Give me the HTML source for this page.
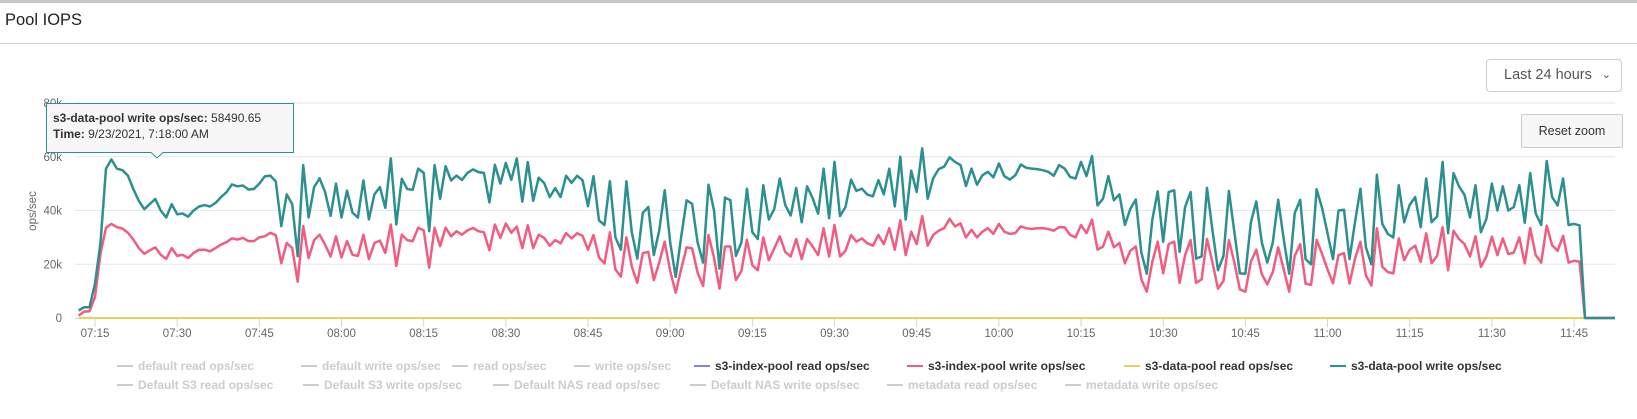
<!DOCTYPE html>
<html><head><meta charset="utf-8"><style>
html,body{margin:0;padding:0;background:#fff;width:1637px;height:419px;overflow:hidden;font-family:"Liberation Sans",sans-serif;}
#topbar{position:absolute;left:0;top:0;width:1637px;height:3px;background:#c8c8c8;}
#title{position:absolute;left:5px;top:11px;font-size:16.5px;color:#222;}
#hdrline{position:absolute;left:0;top:43px;width:1637px;height:1px;background:#cfcfcf;}
#sel{position:absolute;left:1486px;top:59px;width:136px;height:33px;border:1px solid #ccc;border-radius:4px;box-sizing:border-box;font-size:14.5px;color:#555;line-height:31px;padding-left:17px;background:#fff;}
#sel span{position:absolute;right:10px;top:0;font-size:11px;color:#555;}
#reset{position:absolute;left:1521px;top:114px;width:102px;height:34px;border:1px solid #ccc;border-radius:2px;box-sizing:border-box;background:#f7f7f7;font-size:12.5px;color:#333;text-align:center;line-height:32px;}
svg{position:absolute;left:0;top:0;}
</style></head><body>
<div id="topbar"></div>
<div id="title">Pool IOPS</div>
<div id="hdrline"></div>
<svg id="chart" width="1637" height="419"></svg>
<div id="sel">Last 24 hours<span>&#8964;</span></div>
<div id="reset">Reset zoom</div>
<script>
const startMinute = -3; // minutes relative to 07:15, 1-minute step
const tealValues = [2.8,4,4,12.8,28,55.6,59,55.6,55,53,48,43.6,40.5,42.4,44.3,40,37.4,42.4,38.6,38.9,37.7,40,41.5,42,41.5,42.8,45,46.8,49.7,49,49.3,47.8,48,50,52.7,53,50.8,34.2,46,42.4,23,56.9,37.4,48.7,52,46.8,38,50,37.4,47.4,39.2,37.4,51.2,36.7,46,48.7,41,59.4,34.8,51.8,48,47.7,55.6,54,32.3,56.9,44.3,56.5,51.2,53,51.4,54,55.3,54.3,54,43,57,50,57.7,51.4,59.4,43.3,58,43.6,52.2,50.2,45,48.3,
45,52.9,50.3,52.9,51.3,41.6,52.8,36.3,34.6,50.9,30,25.4,50.9,31.9,22.1,39.1,41.3,23.4,32.5,47.5,28.1,15.3,30,43.8,42.5,28.1,20.6,49.6,40,18.4,44.8,43.8,23.1,28.1,48.1,31.9,29.4,49.4,36.6,40.6,51.9,42.1,38.1,48.4,35.6,49,44.6,38.8,55.6,37.1,58.1,37.9,41.3,51.5,47.3,48.1,45.9,45.3,51.3,46,55.6,
41.5,60,36.6,54.8,46.9,63.1,44.4,51.9,55.4,56.3,59.8,58.1,56.9,49.1,55.6,49.6,53.1,54.4,52.3,57.5,52.8,51.5,53.1,57.1,55.9,55.6,55.4,55,54.4,52.9,56.9,55.6,52.5,51.9,58.1,52.8,60.3,41.9,44.4,52.8,43.8,46,34.6,40.6,44.1,24.4,16.5,36.5,47.1,28.4,46.9,47.5,24.6,41.3,46.9,22.1,22.9,48.4,32.5,17.8,23.1,47.3,31.9,16.6,
16.5,35.6,43.4,28.1,20.6,28.1,44,29.4,16.5,39,44,21.9,20,47.9,40.9,31.6,21.9,40,40.3,21.9,35.4,48.1,26.3,20,53.3,35,31.3,30,49.4,35.6,42.1,45,33.8,51.9,35.6,37.8,58.1,31.5,53.9,49,45.8,37.4,49.4,31.9,36.9,50,40,49,40,41.3,49.4,35.4,53.9,38.9,34.6,58.4,45,41.9,51.9,34.6,35,34.5,0,0,0,0,0,0,0,0,0];
const pinkValues = [0.9,2.4,2.5,7.8,24,33.6,35,33.8,33.3,31.7,29.2,26,23.9,25.2,26.3,23.5,22,26,23.1,23.5,22.3,24.2,25.4,25.4,24.8,26,27.3,28.2,29.6,29.2,29.8,28.6,28.6,30,30.4,31.7,30.8,20.4,27.9,26,13.5,34.2,22.3,29,31,27.3,22.9,30.4,22.5,28.6,23.5,23.1,31,21.9,27.9,28.8,24.2,34.8,19.4,31,29,28.6,33.6,32.6,18.7,33.6,26.7,33.6,30.4,32.3,31,32.6,33.5,32.3,31.9,25.2,34.8,29.8,35.2,31.7,34,26,34.5,26,31,29.8,26.9,29,
27.8,31.6,29.6,31.5,30.6,25.4,30.9,22.5,20.3,31.9,18.1,15.4,30,19.1,13.1,24.1,24.6,14.1,20.6,28.4,17.5,9.4,18.1,26.3,25.9,16.9,11.9,30.9,22.5,10.9,26.6,26.6,14.1,17.5,29.1,19.6,17.8,30,21.5,25.9,30.4,24.6,22.9,29.4,21.9,29.4,26.6,23.4,33.4,22.9,34.6,22.9,25,30.9,28.4,29.6,27.8,26.9,30.9,27.5,33.4,
25.4,36.3,23.4,32.1,27.5,37.9,26.9,30.9,32.5,33.4,36.9,34.1,35.2,30,32.8,30,32.1,33.4,31.3,35,32.1,31.3,31.6,34.1,33.4,33.1,33.4,33.4,33.1,32.5,33.8,33.8,30.9,30,34.6,31.6,36.6,25.4,26.6,32.1,26.3,27.9,20.4,25,26.6,14.4,9.8,20.9,28.4,16.6,27.5,28.4,13.1,23.4,29,13.1,14.4,29.4,20.6,10.9,13.8,29,20.6,10.6,
9.8,20.9,25.4,16.3,12.5,17.1,26.3,18.1,9.8,23.1,27.5,12.8,12.3,29.1,23.8,18.1,12.9,23.4,24.1,12.8,21.9,28.4,15.9,12.1,33.4,19.1,17.1,16.6,29.6,21.5,25.4,26.9,20.9,31.5,20.4,23.1,33.8,17.8,32.5,29.4,27.5,22.9,30.4,19,22.9,30.3,23.4,29.6,23.8,24.3,30,20.3,33.5,23.4,20.6,34.4,27.1,25,30.6,20.6,21.3,21,0,0,0,0,0,0,0,0,0];
const readTimes = [-3, 280];
const readValues = [0, 0];
const yTicks = [0,20,40,60,80];
const yTickLabels = ["0","20k","40k","60k","80k"];
const xTickMinutes = [0,15,30,45,60,75,90,105,120,135,150,165,180,195,210,225,240,255,270];
const xTickLabels = ["07:15","07:30","07:45","08:00","08:15","08:30","08:45","09:00","09:15","09:30","09:45","10:00","10:15","10:30","10:45","11:00","11:15","11:30","11:45"];
const legendRow1 = ["default read ops/sec","default write ops/sec","read ops/sec","write ops/sec","s3-index-pool read ops/sec","s3-index-pool write ops/sec","s3-data-pool read ops/sec","s3-data-pool write ops/sec"];
const legendRow2 = ["Default S3 read ops/sec","Default S3 write ops/sec","Default NAS read ops/sec","Default NAS write ops/sec","metadata read ops/sec","metadata write ops/sec"];

const NS="http://www.w3.org/2000/svg";
const svg=document.getElementById('chart');
const PL=75, PR=1615, Y0=318, YTOP=103;
const xs = m => Math.min(PR, 95 + m*5.478);
const ys = v => Y0 - v*(Y0-YTOP)/80;
function mk(tag, attrs, parent){const e=document.createElementNS(NS,tag);for(const k in attrs)e.setAttribute(k,attrs[k]);(parent||svg).appendChild(e);return e;}

yTicks.forEach((v,i)=>{
  if(v>0){const g=mk('line',{x1:PL,x2:PR,y1:ys(v),y2:ys(v),stroke:'#e6e6e6','stroke-width':1});
  
  }
  const t=mk('text',{x:62,y:ys(v)+4,'text-anchor':'end','font-size':11.5,fill:'#666','font-family':'Liberation Sans, sans-serif'});
  t.textContent=yTickLabels[i];
  
  
});
const yt=mk('text',{x:0,y:0,'text-anchor':'middle','font-size':11.5,fill:'#666',transform:'translate(36,211) rotate(-90)','font-family':'Liberation Sans, sans-serif'});
yt.textContent='ops/sec';


const ax=mk('line',{x1:PL,x2:PR,y1:Y0+0.5,y2:Y0+0.5,stroke:'#ccd6eb','stroke-width':1});


xTickMinutes.forEach((m,i)=>{
  const tk=mk('line',{x1:xs(m),x2:xs(m),y1:Y0,y2:Y0+9,stroke:'#ccd6eb','stroke-width':1});
  
  
  const t=mk('text',{x:xs(m),y:Y0+19,'text-anchor':'middle','font-size':11.5,fill:'#666','font-family':'Liberation Sans, sans-serif'});
  t.textContent=xTickLabels[i];
  
  
});
function seriesPath(vals,start){return vals.map((v,i)=>(i?'L':'M')+xs(start+i).toFixed(1)+' '+ys(v).toFixed(1)).join(' ');}
const pr=mk('path',{d:readTimes.map((m,i)=>(i?'L':'M')+xs(m)+' '+ys(readValues[i])).join(' '),stroke:'#e4d354','stroke-width':2,fill:'none'});


const pp=mk('path',{d:seriesPath(pinkValues,startMinute),stroke:'#f15c80','stroke-width':2.5,fill:'none','stroke-linejoin':'round'});


const tp=mk('path',{d:seriesPath(tealValues,startMinute),stroke:'#2b908f','stroke-width':2.5,fill:'none','stroke-linejoin':'round'});



function legendRow(items,y,xStarts,colors){
  items.forEach((label,i)=>{
    const g=mk('g',{});
    
    
    mk('line',{x1:xStarts[i],x2:xStarts[i]+16,y1:y-4,y2:y-4,stroke:colors[i],'stroke-width':2},g);
    const t=mk('text',{x:xStarts[i]+21,y:y,'font-size':12,'font-weight':'bold',fill:colors[i]==='#ccc'?'#ccc':'#333','font-family':'Liberation Sans, sans-serif'},g);
    t.textContent=label;
  });
}
legendRow(legendRow1,370,[117,301,452,574,694,907,1124,1330],['#ccc','#ccc','#ccc','#ccc','#8085e9','#f15c80','#e4d354','#2b908f']);
legendRow(legendRow2,389,[117,303,493,690,887,1065],['#ccc','#ccc','#ccc','#ccc','#ccc','#ccc']);

const tg=mk('g',{});


mk('path',{d:'M46.5 103.5 H293.5 V152.5 H163 L157 158 L151 152.5 H46.5 Z',fill:'#f7f7f7','fill-opacity':0.95,stroke:'#2b908f','stroke-width':1},tg);
const t1=mk('text',{x:53,y:122,'font-size':12,fill:'#333','font-family':'Liberation Sans, sans-serif'},tg);
t1.innerHTML='<tspan font-weight="bold">s3-data-pool write ops/sec:</tspan> 58490.65';
const t2=mk('text',{x:53,y:138,'font-size':12,fill:'#333','font-family':'Liberation Sans, sans-serif'},tg);
t2.innerHTML='<tspan font-weight="bold">Time:</tspan> 9/23/2021, 7:18:00 AM';
</script>
</body></html>
